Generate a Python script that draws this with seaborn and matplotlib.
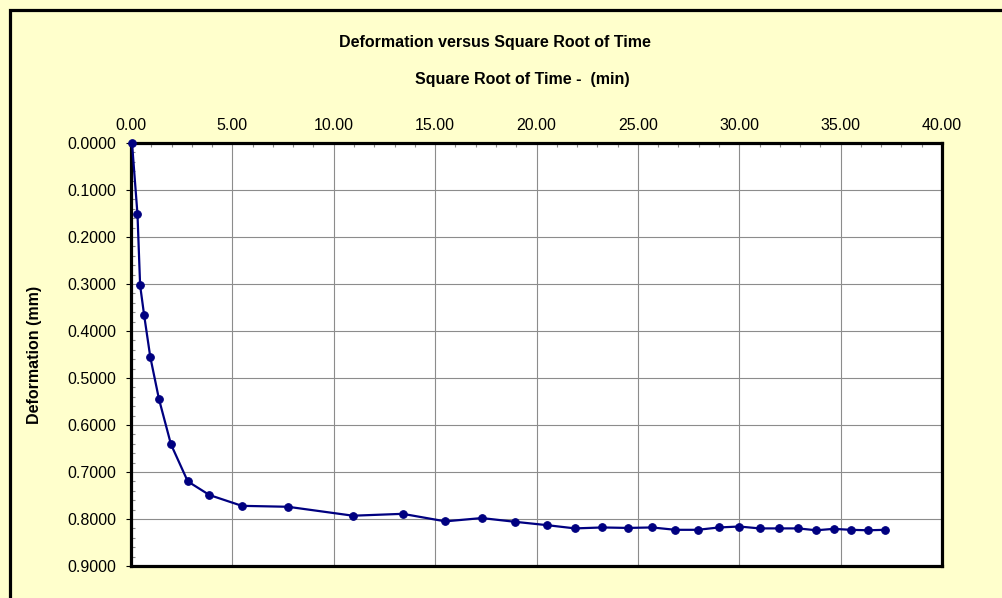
import matplotlib
matplotlib.use("Agg")
import matplotlib.pyplot as plt
import matplotlib.ticker as mticker
import pandas as pd
import seaborn as sns
from matplotlib.patches import Rectangle

# square root of elapsed time (min) and dial deformation (mm)
sqrt_time = [0.05, 0.32, 0.45, 0.65, 0.95, 1.38, 1.97, 2.80, 3.87, 5.47, 7.74,
             10.95, 13.40, 15.50, 17.30, 18.95, 20.50, 21.90, 23.25, 24.50,
             25.70, 26.85, 27.95, 29.00, 30.00, 31.00, 31.95, 32.90, 33.80,
             34.65, 35.50, 36.35, 37.20]
deformation = [0.000, 0.152, 0.303, 0.367, 0.455, 0.545, 0.641, 0.720, 0.749,
               0.772, 0.774, 0.793, 0.789, 0.805, 0.798, 0.806, 0.813, 0.820,
               0.818, 0.819, 0.818, 0.823, 0.823, 0.818, 0.816, 0.820, 0.820,
               0.820, 0.824, 0.821, 0.823, 0.824, 0.823]

x_ticks = [0, 5, 10, 15, 20, 25, 30, 35, 40]
y_ticks = [0.0, 0.1, 0.2, 0.3, 0.4, 0.5, 0.6, 0.7, 0.8, 0.9]

title = "Deformation versus Square Root of Time"
x_label = "Square Root of Time -  (min)"
y_label = "Deformation (mm)"

BG = "#FFFFCC"
NAVY = "#000080"
GRID = "#8c8c8c"


def main() -> None:
    df = pd.DataFrame({"sqrt_t": sqrt_time, "def": deformation})

    sns.set_theme(style="white")
    plt.rcParams["font.family"] = ["Liberation Sans", "DejaVu Sans"]
    plt.rcParams["text.color"] = "black"
    plt.rcParams["axes.labelcolor"] = "black"

    fig = plt.figure(figsize=(10.02, 5.98), dpi=100, facecolor=BG)
    W, H = 1002, 598
    ax = fig.add_axes([131 / W, 1 - 566 / H, (942 - 131) / W, (566 - 143) / H])
    ax.set_facecolor("white")

    sns.lineplot(data=df, x="sqrt_t", y="def", ax=ax, color=NAVY, linewidth=1.6,
                 marker="o", markersize=5.5, markeredgecolor=NAVY, estimator=None)
    # first reading sits on the frame corner, keep the whole dot visible
    ax.lines[0].set_clip_on(False)
    ax.lines[0].set_zorder(5)

    ax.set_xlim(0, 40)
    ax.set_ylim(0.9, 0.0)
    ax.set_xticks(x_ticks)
    ax.set_yticks(y_ticks)
    ax.xaxis.set_minor_locator(mticker.MultipleLocator(1))
    ax.yaxis.set_minor_locator(mticker.MultipleLocator(0.02))
    ax.xaxis.set_major_formatter(mticker.FormatStrFormatter("%.2f"))
    ax.yaxis.set_major_formatter(mticker.FormatStrFormatter("%.4f"))
    ax.xaxis.tick_top()
    ax.xaxis.set_label_position("top")

    ax.grid(True, which="major", color=GRID, linewidth=0.8)
    for s in ax.spines.values():
        s.set_color("black")
        s.set_linewidth(2.3)

    ax.tick_params(axis="x", which="major", direction="in", length=0, pad=7,
                   labelsize=11.5, labelcolor="black", top=True, bottom=False)
    ax.tick_params(axis="x", which="minor", direction="in", length=3, width=0.8,
                   color=GRID, top=True, bottom=False)
    ax.tick_params(axis="y", which="major", direction="out", length=3.5, width=0.8,
                   pad=7, labelsize=11.5, color="black", labelcolor="black",
                   left=True)
    ax.tick_params(axis="y", which="minor", direction="in", length=3, width=0.8,
                   color=GRID, left=True)

    ax.set_xlabel(x_label, fontsize=11.5, fontweight="bold", color="black")
    ax.xaxis.set_label_coords((522.5 - 131) / 811, (566 - 79) / 423)
    ax.xaxis.label.set_va("center")
    ax.set_ylabel(y_label, fontsize=11.5, fontweight="bold", color="black")
    ax.yaxis.set_label_coords((35 - 131) / 811, 0.5)
    ax.yaxis.label.set_va("center")

    fig.text(495 / W, 1 - 43 / H, title, ha="center", va="center",
             fontsize=11.5, fontweight="bold", color="black")

    # outer chart frame (right and bottom run off the picture)
    fig.patches.append(Rectangle((9.5 / W, -0.05), 1.1, 1 - 9.5 / H + 0.05,
                                 transform=fig.transFigure, fill=False,
                                 edgecolor="black", linewidth=2.3))

    fig.savefig("out.png", dpi=100, facecolor=BG)


if __name__ == "__main__":
    main()
